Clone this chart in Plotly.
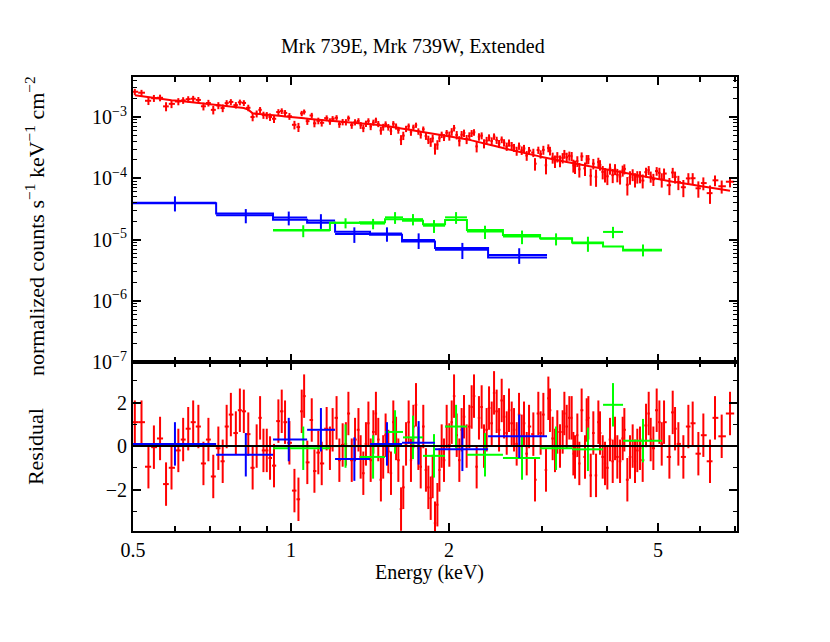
"""XSPEC-style unfolded spectrum with delchi residuals: Mrk 739E, Mrk 739W, extended emission."""

import numpy as np
import plotly.graph_objects as go
from plotly.subplots import make_subplots

# ---- red data group (bin centres in keV, model in 1e-4 counts/s/keV/cm2, residual in sigma)
red_energy = [
    0.504, 0.519, 0.535, 0.548, 0.563, 0.578, 0.592, 0.610, 0.623, 0.637,
    0.651, 0.666, 0.681, 0.696, 0.711, 0.727, 0.741, 0.754, 0.768, 0.785,
    0.799, 0.813, 0.829, 0.845, 0.860, 0.873, 0.886, 0.899, 0.912, 0.928,
    0.946, 0.960, 0.974, 0.993, 1.015, 1.033, 1.048, 1.059, 1.074, 1.095,
    1.108, 1.127, 1.144, 1.169,
    1.186, 1.200, 1.221, 1.236, 1.254, 1.272, 1.286, 1.305, 1.324, 1.344,
    1.357, 1.373, 1.389, 1.404, 1.418, 1.435, 1.451, 1.466, 1.483, 1.498,
    1.514, 1.532, 1.550, 1.566, 1.585, 1.601, 1.620, 1.636, 1.656, 1.675,
    1.692, 1.710, 1.730, 1.748, 1.766, 1.786, 1.807, 1.826, 1.845, 1.861,
    1.880, 1.900, 1.917, 1.936, 1.956, 1.979, 2.002, 2.023, 2.044, 2.068,
    2.092, 2.113, 2.135, 2.160, 2.186, 2.208, 2.231, 2.257, 2.280, 2.307,
    2.331, 2.358, 2.383, 2.411, 2.436, 2.464, 2.490, 2.519, 2.545, 2.575,
    2.601, 2.632, 2.659, 2.690, 2.718, 2.750, 2.778, 2.811, 2.840,
    2.894, 2.915, 2.958, 2.988, 3.024, 3.059, 3.091, 3.113, 3.150, 3.182,
    3.215, 3.253, 3.291, 3.316, 3.350, 3.389, 3.424, 3.449, 3.474, 3.510,
    3.541, 3.577, 3.630, 3.657, 3.684, 3.722, 3.765, 3.810, 3.849, 3.877,
    3.923, 3.963, 4.004, 4.051, 4.099, 4.141, 4.183, 4.233, 4.282, 4.314,
    4.371, 4.422, 4.474, 4.520, 4.566, 4.620, 4.675, 4.744, 4.800, 4.842,
    4.899, 4.971, 5.030, 5.082, 5.134, 5.256, 5.333, 5.388, 5.467, 5.588,
    5.712, 5.821, 5.968, 6.100, 6.281, 6.420, 6.611, 6.857,
]
red_model = [
    22.6, 21.8, 21.0, 20.4, 19.7, 19.3, 18.85, 18.4, 18.0, 17.7,
    17.4, 17.0, 16.7, 16.3, 16.0, 15.65, 15.4, 15.1, 14.85, 14.5,
    14.3, 14.05, 13.2, 11.5, 11.3, 11.2, 11.05, 10.9, 10.8, 10.6,
    10.5, 10.35, 10.2, 10.1, 9.9, 9.7, 9.6, 9.5, 9.4, 9.25,
    9.15, 9.0, 8.9, 8.75,
    8.6, 8.55, 8.4, 8.3, 8.25, 8.15, 8.1, 8.0, 7.95, 7.9,
    7.8, 7.75, 7.7, 7.65, 7.6, 7.55, 7.5, 7.45, 7.4, 7.3,
    7.2, 7.05, 6.95, 6.85, 6.75, 6.65, 6.55, 6.45, 6.35, 6.25,
    6.15, 6.1, 6.0, 5.9, 5.8, 5.7, 5.65, 5.55, 5.5, 5.4,
    5.35, 5.25, 5.2, 5.15, 5.05, 5.0, 4.9, 4.85, 4.75, 4.7,
    4.6, 4.55, 4.45, 4.35, 4.25, 4.15, 4.05, 3.95, 3.9, 3.8,
    3.7, 3.65, 3.55, 3.45, 3.4, 3.3, 3.25, 3.15, 3.1, 3.0,
    2.95, 2.9, 2.8, 2.75, 2.7, 2.65, 2.6, 2.5, 2.45,
    2.4, 2.35, 2.3, 2.25, 2.2, 2.15, 2.1, 2.06, 2.02, 2.0,
    1.96, 1.93, 1.89, 1.87, 1.84, 1.81, 1.78, 1.76, 1.75, 1.72,
    1.70, 1.67, 1.63, 1.61, 1.59, 1.56, 1.53, 1.50, 1.48, 1.46,
    1.43, 1.41, 1.38, 1.35, 1.33, 1.31, 1.28, 1.26, 1.24, 1.22,
    1.19, 1.17, 1.15, 1.13, 1.11, 1.09, 1.07, 1.04, 1.02, 1.00,
    0.985, 0.96, 0.945, 0.93, 0.92, 0.89, 0.875, 0.865, 0.845, 0.825,
    0.80, 0.78, 0.757, 0.735, 0.705, 0.685, 0.66, 0.625,
]
red_resid = [
    1.1, 1.1, -0.95, -0.05, 0.35, -1.75, -1.0, -0.2, 0.3, 0.8,
    1.1, 0.9, -0.8, 0.3, -1.4, -0.1, -0.7, 0.9, 1.45, 0.6,
    1.65, 1.6, 0.55, -1.0, 0.0, 1.3, -0.2, -0.2, -0.55, -0.9,
    1.15, 1.6, 1.1, 0.15, -2.05, -2.45, 1.6, 2.3, -0.75, 1.2,
    -1.15, -0.3, -0.8, 0.8,
    -0.1, 0.75, 1.3, -0.65, 0.05, 0.1, 1.5, -0.65, 0.3, 0.75,
    -0.5, -1.25, 0.1, 1.05, -0.65, 0.65, 1.5, 0.3, -1.55, -0.5,
    0.5, -0.25, -1.25, 1.1, 0.35, -0.65, -2.9, -1.9, 0.1, 1.1,
    -0.65, 0.9, 1.9, -0.1, -0.95, 0.9, -1.1, -1.9, -2.4, -1.4,
    -3.55, -2.7, -1.1, 0.0, -0.65, 0.9, 0.05, 1.1, 2.3, 0.5,
    -0.65, 0.75, 1.35, 0.0, 0.9, 1.8, 2.3, -0.95, 1.3, 1.8,
    0.0, 0.75, 1.75, 1.05, 2.45, 1.6, 0.75, 2.1, 1.35, 0.6,
    1.65, 1.05, 0.75, 0.1, 1.45, 0.45, 1.05, -0.35, 0.9,
    0.55, -1.55, 1.5, 0.6, 1.45, -1.1, 2.2, 1.65, 0.35, -0.2,
    0.65, 0.0, 0.65, 1.5, 0.9, 1.3, 1.3, -0.35, -0.5, 0.5,
    -0.8, 1.65, -0.5, 1.2, 1.3, -1.35, 0.6, -1.35, 1.1, 0.6,
    -0.5, -0.8, -1.0, 0.3, -0.7, 0.35, -0.5, -0.7, 0.35, 0.75,
    -1.55, -0.5, 0.0, -0.7, -0.2, -0.1, -0.65, 0.95, 1.5, 0.3,
    -0.1, 1.65, 1.1, 0.1, 1.1, -0.5, 1.55, 0.8, 0.1, -0.5,
    0.9, 1.05, -0.35, 0.5, -0.7, 1.3, 0.45, 1.5,
]
# fractional 1-sigma error of the red points, per energy band (band lower edges)
red_band_lo = [0.5, 1.0, 2.0, 3.0, 5.0]
red_band_frac = [0.13, 0.12, 0.17, 0.22, 0.27]

# ---- blue data group (flux in 1e-5)
blue_edges = [0.5, 0.720, 0.924, 1.073, 1.213, 1.414, 1.627, 1.880, 2.373, 3.073]
blue_energy = [0.601, 0.82, 0.99, 1.14, 1.32, 1.523, 1.75, 2.12, 2.72]
blue_flux = [3.97, 2.49, 2.28, 2.04, 1.23, 1.25, 0.98, 0.68, 0.56]
blue_err = [1.1, 0.65, 0.58, 0.55, 0.35, 0.33, 0.28, 0.20, 0.16]
blue_model = [3.92, 2.67, 2.10, 1.87, 1.34, 1.20, 0.93, 0.73, 0.51]
blue_resid = [0.1, -0.4, 0.3, 0.75, -0.6, 0.1, 0.15, -0.15, 0.45]

# ---- green data group (flux in 1e-5)
green_edges = [0.924, 1.186, 1.353, 1.510, 1.634, 1.784, 1.965, 2.163, 2.533,
               2.981, 3.430, 3.929, 4.289, 5.088]
green_energy = [1.055, 1.27, 1.433, 1.578, 1.707, 1.872, 2.062, 2.341, 2.754,
                3.197, 3.677, 4.104, 4.681]
green_flux = [1.40, 1.87, 1.82, 2.30, 2.15, 1.68, 2.30, 1.35, 1.12, 1.03, 0.87, 1.33, 0.68]
green_err = [0.31, 0.35, 0.35, 0.50, 0.45, 0.40, 0.50, 0.33, 0.28, 0.23, 0.24, 0.28, 0.15]
green_model = [1.43, 1.87, 1.92, 2.14, 2.03, 1.78, 2.09, 1.43, 1.19, 1.05, 0.89, 0.77, 0.66]
green_resid = [-0.1, 0.0, -0.5, 0.65, 0.4, -0.45, 0.9, -0.4, -0.55, -0.1, -0.15, 1.9, 0.25]

RED, GREEN, BLUE = "#ff0000", "#00ff00", "#0000ff"
FONT = "Liberation Serif, Times New Roman, serif"
E_MIN, E_MAX = 0.5, 7.07

# red: bin edges halfway (in log) between centres; data = model + resid * sigma
e = np.array(red_energy)
mid = np.sqrt(e[:-1] * e[1:])
lo = np.concatenate([[e[0] ** 2 / mid[0]], mid])
hi = np.concatenate([mid, [e[-1] ** 2 / mid[-1]]])
frac = np.array(red_band_frac)[np.searchsorted(red_band_lo, e, side="right") - 1]
r_model = np.array(red_model) * 1e-4
r_sigma = r_model * frac
r_flux = r_model + np.array(red_resid) * r_sigma


def bin_err(edges, centres):
    ed = np.array(edges)
    c = np.array(centres)
    return ed[1:] - c, c - ed[:-1]


fig = make_subplots(rows=2, cols=1, shared_xaxes=True, vertical_spacing=0,
                    row_heights=[0.6278, 0.3722])


def cross(x, y, xp, xm, ey, color, row, thick=2):
    # invisible marker: only the error bars make the cross
    fig.add_trace(go.Scatter(
        x=x, y=y, mode="markers", marker={"size": 2, "color": "rgba(0,0,0,0)"},
        error_x={"type": "data", "symmetric": False, "array": xp, "arrayminus": xm,
                 "color": color, "thickness": thick, "width": 0},
        error_y={"type": "data", "array": ey, "color": color, "thickness": thick, "width": 0},
        showlegend=False, hoverinfo="skip"), row=row, col=1)


def step(edges, vals, color):
    fig.add_trace(go.Scatter(
        x=list(edges), y=list(vals) + [vals[-1]], mode="lines", line_shape="hv",
        line={"color": color, "width": 2}, showlegend=False, hoverinfo="skip"), row=1, col=1)


# top panel
cross(e, r_flux, hi - e, e - lo, r_sigma, RED, 1)
fig.add_trace(go.Scatter(x=e, y=r_model, mode="lines", line={"color": RED, "width": 2},
                         showlegend=False, hoverinfo="skip"), row=1, col=1)

bp, bm = bin_err(blue_edges, blue_energy)
cross(blue_energy, np.array(blue_flux) * 1e-5, bp, bm, np.array(blue_err) * 1e-5, BLUE, 1)
step(blue_edges, list(np.array(blue_model) * 1e-5), BLUE)

gp, gm = bin_err(green_edges, green_energy)
cross(green_energy, np.array(green_flux) * 1e-5, gp, gm, np.array(green_err) * 1e-5, GREEN, 1)
step(green_edges, list(np.array(green_model) * 1e-5), GREEN)

# residual panel
cross(e, red_resid, hi - e, e - lo, [1.0] * len(e), RED, 2)
cross(green_energy, green_resid, gp, gm, [1.0] * len(green_energy), GREEN, 2)
cross(blue_energy, blue_resid, bp, bm, [1.0] * len(blue_energy), BLUE, 2)
fig.add_hline(y=0, line_color="black", line_width=2, row=2, col=1)

axis_common = dict(showline=True, linecolor="black", linewidth=2, mirror="ticks",
                   ticks="inside", ticklen=8, tickwidth=1.5, tickcolor="black",
                   showgrid=False, zeroline=False,
                   tickfont={"family": FONT, "size": 20, "color": "black"})

x_minor = dict(ticks="inside", ticklen=5, tickwidth=1.5, tickcolor="black",
               tickmode="array", tickvals=[0.6, 0.7, 0.8, 0.9, 3, 4, 6, 7])
for row in (1, 2):
    fig.update_xaxes(type="log", range=[np.log10(E_MIN), np.log10(E_MAX)],
                     tickmode="array", tickvals=[0.5, 1, 2, 5], ticktext=["0.5", "1", "2", "5"],
                     minor=x_minor, showticklabels=(row == 2), row=row, col=1, **axis_common)

decades = [1e-7, 1e-6, 1e-5, 1e-4, 1e-3]
fig.update_yaxes(type="log", range=[-7, -2.347], tickmode="array", tickvals=decades,
                 ticktext=["10<sup>\u22127</sup>", "10<sup>\u22126</sup>", "10<sup>\u22125</sup>",
                           "10<sup>\u22124</sup>", "10<sup>\u22123</sup>"],
                 minor=dict(ticks="inside", ticklen=4, tickwidth=1.2, tickcolor="black",
                            tickmode="array",
                            tickvals=[m * d for d in decades for m in range(2, 10)]),
                 row=1, col=1, **axis_common)
fig.update_yaxes(range=[-3.91, 3.87], tickmode="array", tickvals=[-2, 0, 2],
                 ticktext=["\u22122", "0", "2"],
                 minor=dict(ticks="inside", ticklen=4, tickwidth=1.2, tickcolor="black",
                            tickmode="array", tickvals=[-3, -1, 1, 3]),
                 row=2, col=1, **axis_common)

title_font = {"family": FONT, "size": 20, "color": "black"}
label_font = {"family": FONT, "size": 22, "color": "black"}
# the page adds an 8 px body margin, so the figure is 8 px smaller and margins shifted
fig.update_layout(
    width=822, height=634,
    margin={"l": 125, "r": 93, "t": 69, "b": 111, "autoexpand": False},
    plot_bgcolor="white", paper_bgcolor="white",
    annotations=[
        dict(text="Mrk 739E, Mrk 739W, Extended", x=0.4636, y=1.0683, xref="paper", yref="paper",
             showarrow=False, font=title_font, xanchor="center", yanchor="middle"),
        dict(text="normalized counts s<sup>\u22121</sup> keV<sup>\u22121</sup> cm<sup>\u22122</sup>",
             x=-0.1623, y=0.6718, xref="paper", yref="paper", textangle=-90,
             showarrow=False, font=label_font, xanchor="center", yanchor="middle"),
        dict(text="Residual", x=-0.1623, y=0.187, xref="paper", yref="paper", textangle=-90,
             showarrow=False, font=label_font, xanchor="center", yanchor="middle"),
        dict(text="Energy (keV)", x=0.4917, y=-0.0925, xref="paper", yref="paper",
             showarrow=False, font=title_font, xanchor="center", yanchor="middle"),
    ],
)

fig.write_html("out.html")
